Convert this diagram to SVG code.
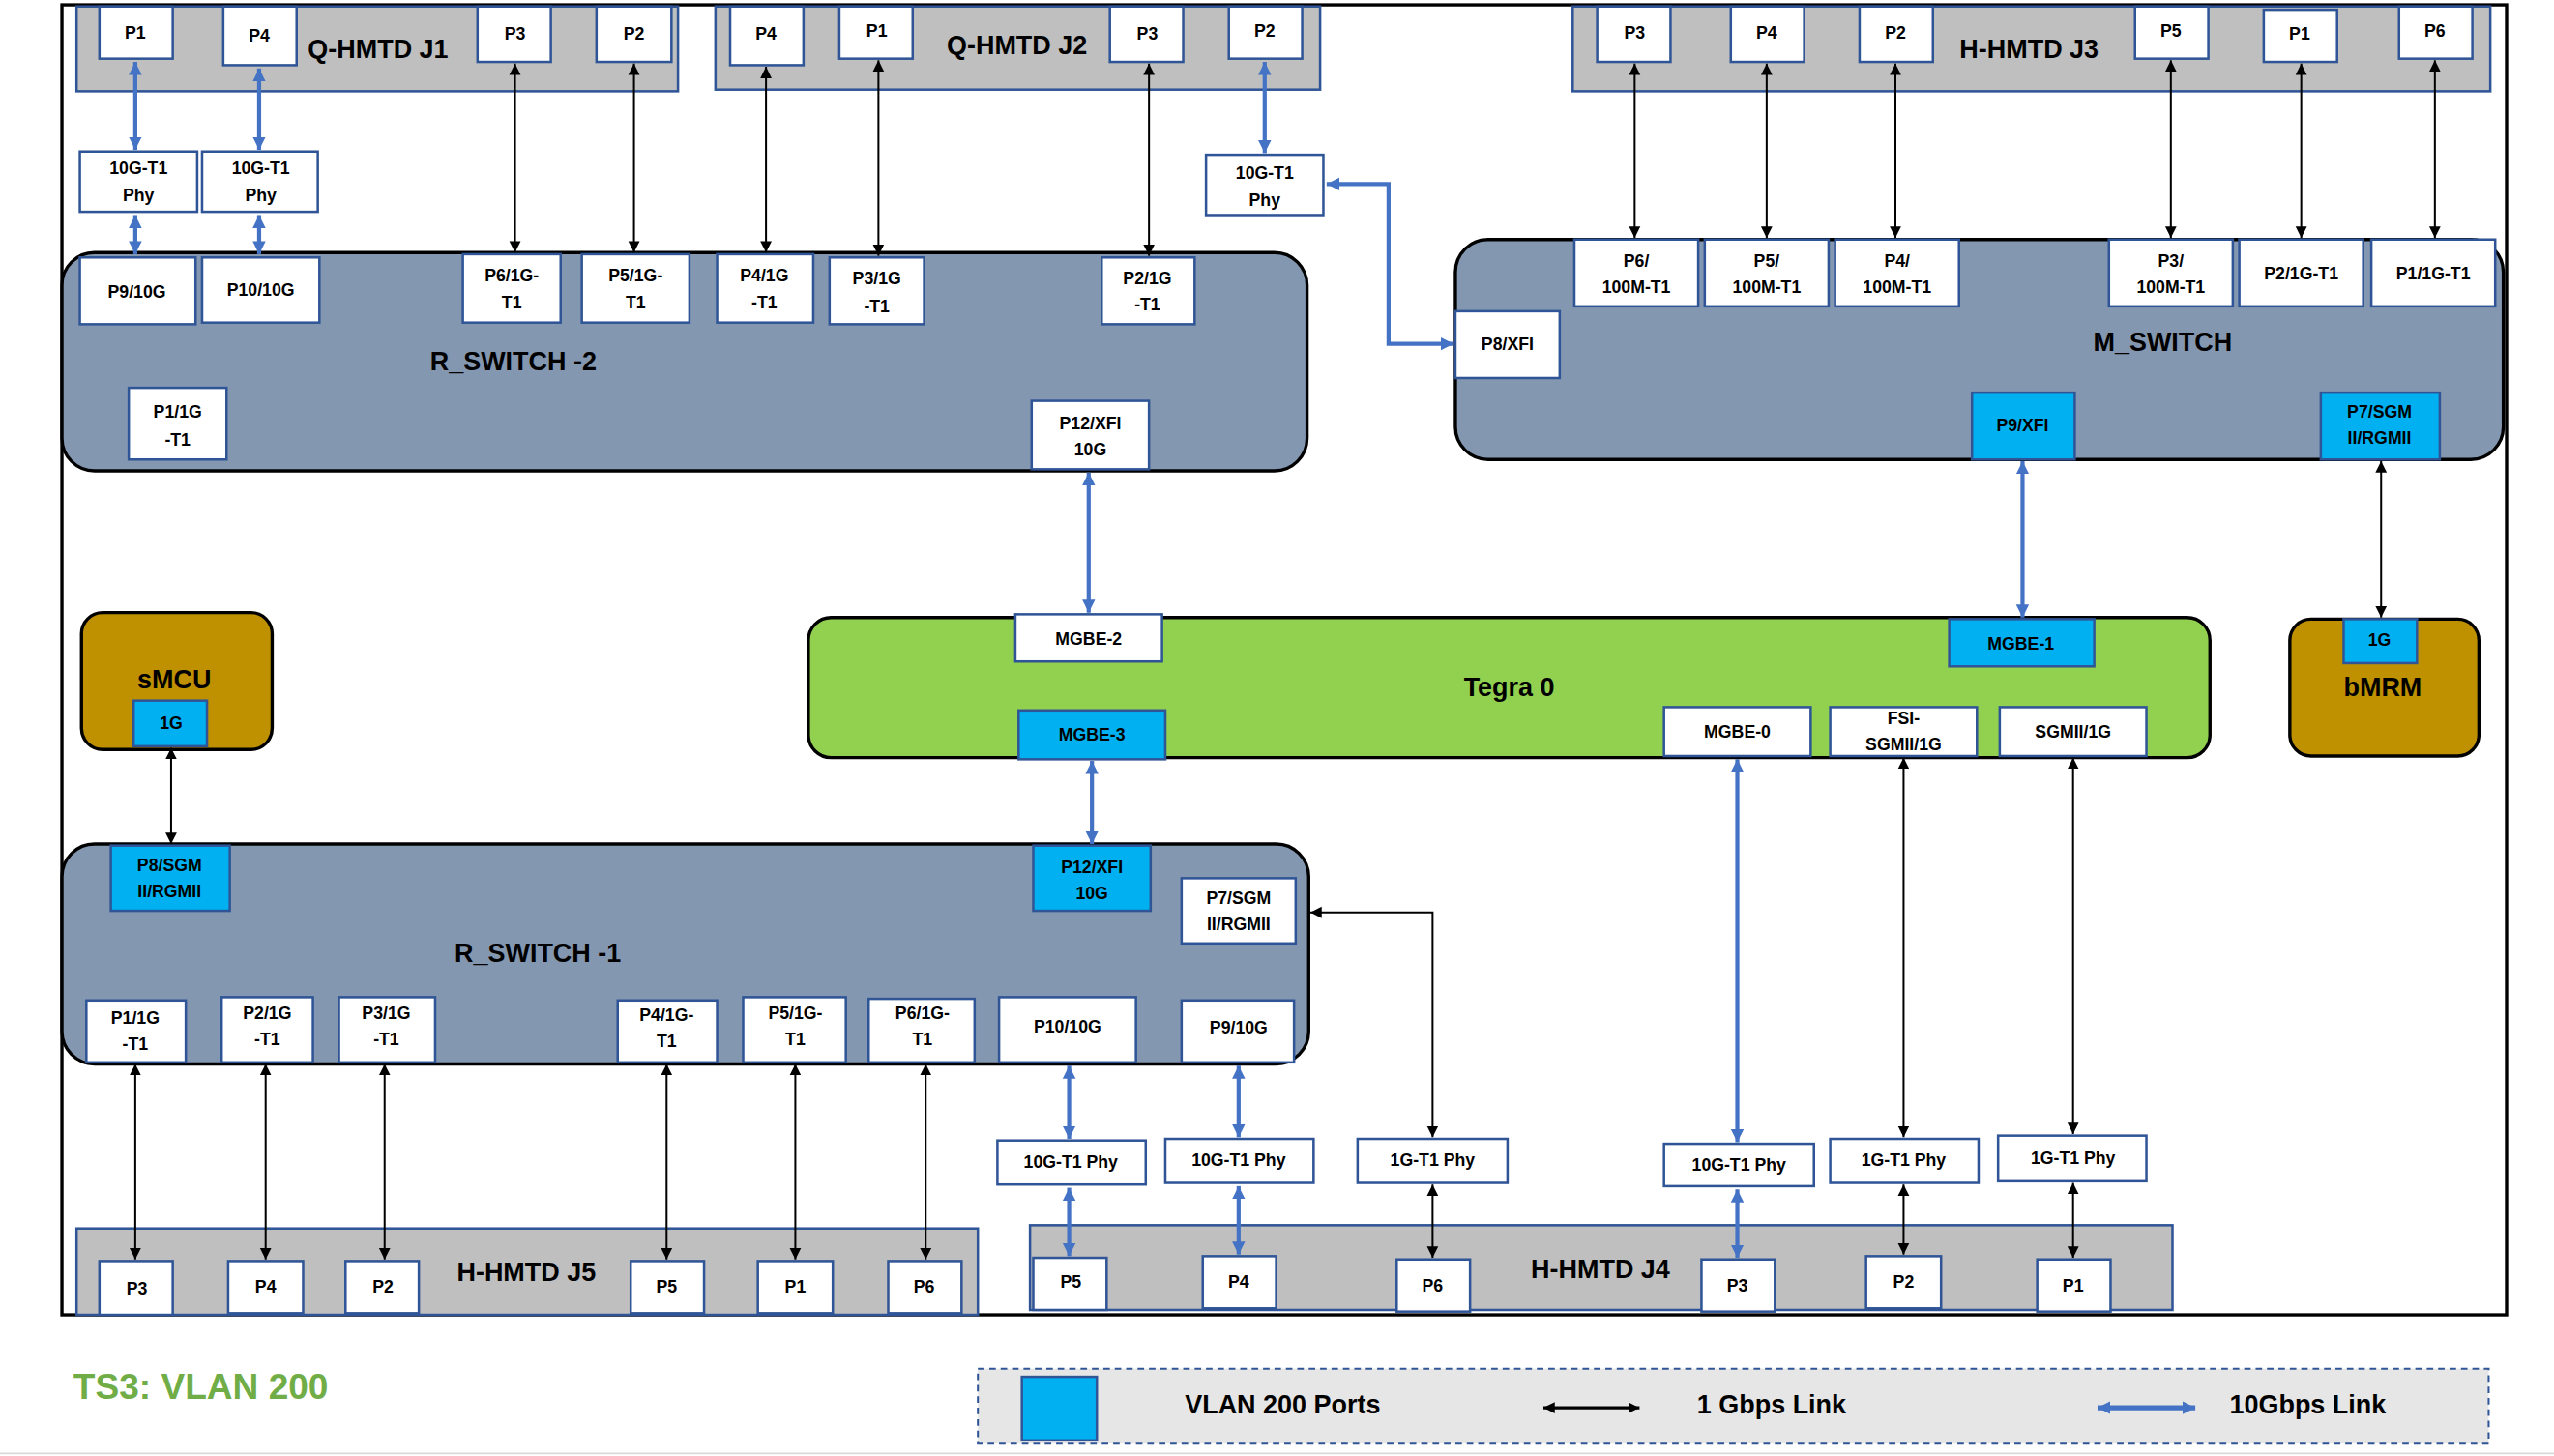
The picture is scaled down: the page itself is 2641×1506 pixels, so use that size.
<svg xmlns="http://www.w3.org/2000/svg" width="2641" height="1506" viewBox="0 0 2641 1506">
<defs>
<style>
text{font-family:"Liberation Sans",Arial,sans-serif;font-weight:bold;fill:#000;text-anchor:middle;dominant-baseline:central}
.p{font-size:10.5px}
.big{font-size:16px}
.port{fill:#fff;stroke:#2F5597;stroke-width:1.5}
.vl{fill:#00B0F0;stroke:#2F5597;stroke-width:1.5}
.hm{fill:#BFBFBF;stroke:#2F5597;stroke-width:1.5}
.sw{fill:#8497B0;stroke:#000;stroke-width:2}
.k{stroke:#000;stroke-width:1.2;fill:none;marker-start:url(#ka);marker-end:url(#ka)}
.b{stroke:#4472C4;stroke-width:2.5;fill:none;marker-start:url(#ba);marker-end:url(#ba)}
</style>
<marker id="ka" viewBox="0 0 10 10" refX="10" refY="5" markerWidth="7" markerHeight="9" markerUnits="userSpaceOnUse" orient="auto-start-reverse"><path d="M0,0 L10,5 L0,10 z" fill="#000"/></marker>
<marker id="ba" viewBox="0 0 10 10" refX="10" refY="5" markerWidth="8" markerHeight="10" markerUnits="userSpaceOnUse" orient="auto-start-reverse"><path d="M0,0 L10,5 L0,10 z" fill="#4472C4"/></marker>
</defs>
<rect width="2641" height="1506" fill="#fff"/>
<g transform="scale(1.6853)">
<rect x="38" y="3" width="1500" height="804" fill="none" stroke="#000" stroke-width="2"/>
<line x1="0" y1="892" x2="1570" y2="892" stroke="#D9D9D9" stroke-width="1"/>

<g id="qhmtd-j1">
<rect class="hm" x="47" y="4" width="369" height="52"/>
<text class="big" x="232" y="30">Q-HMTD J1</text>
<rect class="port" x="61" y="4" width="45" height="32"/><text class="p" x="83" y="20">P1</text>
<rect class="port" x="137" y="4" width="45" height="36"/><text class="p" x="159" y="22">P4</text>
<rect class="port" x="293" y="4" width="45" height="34"/><text class="p" x="316" y="21">P3</text>
<rect class="port" x="366" y="4" width="46" height="34"/><text class="p" x="389" y="21">P2</text>
</g>
<g id="qhmtd-j2">
<rect class="hm" x="439" y="4" width="371" height="51"/>
<text class="big" x="624" y="28">Q-HMTD J2</text>
<rect class="port" x="448" y="4" width="45" height="36"/><text class="p" x="470" y="21">P4</text>
<rect class="port" x="515" y="4" width="45" height="32"/><text class="p" x="538" y="19">P1</text>
<rect class="port" x="681" y="4" width="45" height="34"/><text class="p" x="704" y="21">P3</text>
<rect class="port" x="754" y="4" width="45" height="32"/><text class="p" x="776" y="19">P2</text>
</g>
<g id="hhmtd-j3">
<rect class="hm" x="965" y="4" width="563" height="52"/>
<text class="big" x="1245" y="30">H-HMTD J3</text>
<rect class="port" x="980" y="4" width="45" height="34"/><text class="p" x="1003" y="20">P3</text>
<rect class="port" x="1062" y="4" width="45" height="34"/><text class="p" x="1084" y="20">P4</text>
<rect class="port" x="1141" y="4" width="45" height="34"/><text class="p" x="1163" y="20">P2</text>
<rect class="port" x="1310" y="4" width="45" height="32"/><text class="p" x="1332" y="19">P5</text>
<rect class="port" x="1389" y="6" width="45" height="32"/><text class="p" x="1411" y="21">P1</text>
<rect class="port" x="1472" y="4" width="45" height="32"/><text class="p" x="1494" y="19">P6</text>
</g>

<g id="phy-j1-p1"><rect class="port" x="49" y="93" width="72" height="37"/><text class="p"><tspan x="85" y="103">10G-T1</tspan><tspan x="85" y="120">Phy</tspan></text></g>
<g id="phy-j1-p4"><rect class="port" x="124" y="93" width="71" height="37"/><text class="p"><tspan x="160" y="103">10G-T1</tspan><tspan x="160" y="120">Phy</tspan></text></g>
<g id="phy-j2-p2"><rect class="port" x="740" y="95" width="72" height="37"/><text class="p"><tspan x="776" y="106">10G-T1</tspan><tspan x="776" y="123">Phy</tspan></text></g>

<g id="r-switch-2">
<rect class="sw" x="38" y="155" width="764" height="134" rx="20"/>
<text class="big" x="315" y="222">R_SWITCH -2</text>
<rect class="port" x="49" y="158" width="71" height="41"/><text class="p" x="84" y="179">P9/10G</text>
<rect class="port" x="124" y="158" width="72" height="40"/><text class="p" x="160" y="178">P10/10G</text>
<rect class="port" x="284" y="156" width="60" height="42"/><text class="p"><tspan x="314" y="169">P6/1G-</tspan><tspan x="314" y="186">T1</tspan></text>
<rect class="port" x="357" y="156" width="66" height="42"/><text class="p"><tspan x="390" y="169">P5/1G-</tspan><tspan x="390" y="186">T1</tspan></text>
<rect class="port" x="440" y="156" width="59" height="42"/><text class="p"><tspan x="469" y="169">P4/1G</tspan><tspan x="469" y="186">-T1</tspan></text>
<rect class="port" x="509" y="158" width="58" height="41"/><text class="p"><tspan x="538" y="171">P3/1G</tspan><tspan x="538" y="188">-T1</tspan></text>
<rect class="port" x="676" y="158" width="57" height="41"/><text class="p"><tspan x="704" y="171">P2/1G</tspan><tspan x="704" y="187">-T1</tspan></text>
<rect class="port" x="79" y="238" width="60" height="44"/><text class="p"><tspan x="109" y="253">P1/1G</tspan><tspan x="109" y="270">-T1</tspan></text>
<rect class="port" x="633" y="246" width="72" height="42"/><text class="p"><tspan x="669" y="260">P12/XFI</tspan><tspan x="669" y="276">10G</tspan></text>
</g>

<g id="m-switch">
<rect class="sw" x="893" y="147" width="643" height="135" rx="20"/>
<text class="big" x="1327" y="210">M_SWITCH</text>
<rect class="port" x="966" y="147" width="76" height="41"/><text class="p"><tspan x="1004" y="160">P6/</tspan><tspan x="1004" y="176">100M-T1</tspan></text>
<rect class="port" x="1046" y="147" width="76" height="41"/><text class="p"><tspan x="1084" y="160">P5/</tspan><tspan x="1084" y="176">100M-T1</tspan></text>
<rect class="port" x="1126" y="147" width="76" height="41"/><text class="p"><tspan x="1164" y="160">P4/</tspan><tspan x="1164" y="176">100M-T1</tspan></text>
<rect class="port" x="1294" y="147" width="76" height="41"/><text class="p"><tspan x="1332" y="160">P3/</tspan><tspan x="1332" y="176">100M-T1</tspan></text>
<rect class="port" x="1374" y="147" width="76" height="41"/><text class="p" x="1412" y="168">P2/1G-T1</text>
<rect class="port" x="1455" y="147" width="76" height="41"/><text class="p" x="1493" y="168">P1/1G-T1</text>
<rect class="port" x="893" y="191" width="64" height="41"/><text class="p" x="925" y="211">P8/XFI</text>
<rect class="vl" x="1210" y="241" width="63" height="41"/><text class="p" x="1241" y="261">P9/XFI</text>
<rect class="vl" x="1424" y="241" width="73" height="41"/><text class="p"><tspan x="1460" y="253">P7/SGM</tspan><tspan x="1460" y="269">II/RGMII</tspan></text>
</g>

<g id="tegra-0">
<rect x="496" y="379" width="860" height="86" rx="14" fill="#92D050" stroke="#000" stroke-width="2"/>
<text class="big" x="926" y="422">Tegra 0</text>
<rect class="port" x="623" y="377" width="90" height="29"/><text class="p" x="668" y="392">MGBE-2</text>
<rect class="vl" x="625" y="436" width="90" height="30"/><text class="p" x="670" y="451">MGBE-3</text>
<rect class="vl" x="1196" y="380" width="89" height="29"/><text class="p" x="1240" y="395">MGBE-1</text>
<rect class="port" x="1021" y="434" width="90" height="30"/><text class="p" x="1066" y="449">MGBE-0</text>
<rect class="port" x="1123" y="434" width="90" height="30"/><text class="p"><tspan x="1168" y="441">FSI-</tspan><tspan x="1168" y="457">SGMII/1G</tspan></text>
<rect class="port" x="1227" y="434" width="90" height="30"/><text class="p" x="1272" y="449">SGMII/1G</text>
</g>

<g id="smcu">
<rect x="50" y="376" width="117" height="84" rx="13" fill="#BF9000" stroke="#000" stroke-width="2"/>
<text class="big" x="107" y="417">sMCU</text>
<rect class="vl" x="82" y="430" width="45" height="28"/><text class="p" x="105" y="444">1G</text>
</g>
<g id="bmrm">
<rect x="1405" y="380" width="116" height="84" rx="13" fill="#BF9000" stroke="#000" stroke-width="2"/>
<text class="big" x="1462" y="422">bMRM</text>
<rect class="vl" x="1438" y="380" width="45" height="27"/><text class="p" x="1460" y="393">1G</text>
</g>

<g id="r-switch-1">
<rect class="sw" x="38" y="518" width="765" height="135" rx="20"/>
<text class="big" x="330" y="585">R_SWITCH -1</text>
<rect class="vl" x="68" y="519" width="73" height="40"/><text class="p"><tspan x="104" y="531">P8/SGM</tspan><tspan x="104" y="547">II/RGMII</tspan></text>
<rect class="vl" x="634" y="519" width="72" height="40"/><text class="p"><tspan x="670" y="532">P12/XFI</tspan><tspan x="670" y="548">10G</tspan></text>
<rect class="port" x="725" y="539" width="70" height="40"/><text class="p"><tspan x="760" y="551">P7/SGM</tspan><tspan x="760" y="567">II/RGMII</tspan></text>
<rect class="port" x="53" y="614" width="61" height="38"/><text class="p"><tspan x="83" y="625">P1/1G</tspan><tspan x="83" y="641">-T1</tspan></text>
<rect class="port" x="136" y="612" width="56" height="40"/><text class="p"><tspan x="164" y="622">P2/1G</tspan><tspan x="164" y="638">-T1</tspan></text>
<rect class="port" x="208" y="612" width="59" height="40"/><text class="p"><tspan x="237" y="622">P3/1G</tspan><tspan x="237" y="638">-T1</tspan></text>
<rect class="port" x="379" y="614" width="61" height="38"/><text class="p"><tspan x="409" y="623">P4/1G-</tspan><tspan x="409" y="639">T1</tspan></text>
<rect class="port" x="456" y="612" width="63" height="40"/><text class="p"><tspan x="488" y="622">P5/1G-</tspan><tspan x="488" y="638">T1</tspan></text>
<rect class="port" x="533" y="613" width="65" height="39"/><text class="p"><tspan x="566" y="622">P6/1G-</tspan><tspan x="566" y="638">T1</tspan></text>
<rect class="port" x="613" y="612" width="84" height="40"/><text class="p" x="655" y="630">P10/10G</text>
<rect class="port" x="725" y="614" width="69" height="38"/><text class="p" x="760" y="631">P9/10G</text>
</g>

<g id="phy-j4-p5"><rect class="port" x="612" y="700" width="91" height="27"/><text class="p" x="657" y="713">10G-T1 Phy</text></g>
<g id="phy-j4-p4"><rect class="port" x="715" y="699" width="91" height="27"/><text class="p" x="760" y="712">10G-T1 Phy</text></g>
<g id="phy-j4-p6"><rect class="port" x="833" y="699" width="92" height="27"/><text class="p" x="879" y="712">1G-T1 Phy</text></g>
<g id="phy-j4-p3"><rect class="port" x="1021" y="702" width="92" height="26"/><text class="p" x="1067" y="715">10G-T1 Phy</text></g>
<g id="phy-j4-p2"><rect class="port" x="1123" y="699" width="91" height="27"/><text class="p" x="1168" y="712">1G-T1 Phy</text></g>
<g id="phy-j4-p1"><rect class="port" x="1226" y="697" width="91" height="28"/><text class="p" x="1272" y="711">1G-T1 Phy</text></g>

<g id="hhmtd-j5">
<rect class="hm" x="47" y="754" width="553" height="53"/>
<text class="big" x="323" y="781">H-HMTD J5</text>
<rect class="port" x="61" y="774" width="45" height="33"/><text class="p" x="84" y="791">P3</text>
<rect class="port" x="140" y="774" width="46" height="32"/><text class="p" x="163" y="790">P4</text>
<rect class="port" x="212" y="774" width="45" height="32"/><text class="p" x="235" y="790">P2</text>
<rect class="port" x="387" y="774" width="45" height="32"/><text class="p" x="409" y="790">P5</text>
<rect class="port" x="465" y="774" width="46" height="32"/><text class="p" x="488" y="790">P1</text>
<rect class="port" x="545" y="774" width="45" height="32"/><text class="p" x="567" y="790">P6</text>
</g>
<g id="hhmtd-j4">
<rect class="hm" x="632" y="752" width="701" height="52"/>
<text class="big" x="982" y="779">H-HMTD J4</text>
<rect class="port" x="634" y="772" width="45" height="32"/><text class="p" x="657" y="787">P5</text>
<rect class="port" x="738" y="771" width="45" height="32"/><text class="p" x="760" y="787">P4</text>
<rect class="port" x="857" y="773" width="45" height="32"/><text class="p" x="879" y="789">P6</text>
<rect class="port" x="1044" y="773" width="45" height="32"/><text class="p" x="1066" y="789">P3</text>
<rect class="port" x="1145" y="771" width="46" height="32"/><text class="p" x="1168" y="787">P2</text>
<rect class="port" x="1250" y="773" width="45" height="32"/><text class="p" x="1272" y="789">P1</text>
</g>

<g id="connectors">
<path class="b" d="M83,38 V92"/><path class="b" d="M83,132 V156"/>
<path class="b" d="M159,42 V92"/><path class="b" d="M159,132 V156"/>
<path class="b" d="M776,38 V94"/>
<path class="b" d="M814,113 H852 V211 H892"/>
<path class="b" d="M668,290 V376"/>
<path class="b" d="M670,467 V518"/>
<path class="b" d="M1241,283 V379"/>
<path class="b" d="M656,654 V699"/><path class="b" d="M656,729 V771"/>
<path class="b" d="M760,654 V698"/><path class="b" d="M760,728 V770"/>
<path class="b" d="M1066,466 V701"/><path class="b" d="M1066,730 V772"/>
<path class="k" d="M316,39 V155"/><path class="k" d="M389,39 V155"/>
<path class="k" d="M470,41 V155"/><path class="k" d="M539,37 V157"/>
<path class="k" d="M705,39 V157"/>
<path class="k" d="M1003,39 V146"/><path class="k" d="M1084,39 V146"/>
<path class="k" d="M1163,39 V146"/><path class="k" d="M1332,37 V146"/>
<path class="k" d="M1412,39 V146"/><path class="k" d="M1494,37 V146"/>
<path class="k" d="M1461,283 V379"/>
<path class="k" d="M105,459 V518"/>
<path class="k" d="M83,653 V773"/><path class="k" d="M163,653 V773"/>
<path class="k" d="M236,653 V773"/><path class="k" d="M409,653 V773"/>
<path class="k" d="M488,653 V773"/><path class="k" d="M568,653 V773"/>
<path class="k" d="M804,560 H879 V698"/>
<path class="k" d="M879,727 V772"/>
<path class="k" d="M1168,465 V698"/><path class="k" d="M1168,727 V770"/>
<path class="k" d="M1272,465 V696"/><path class="k" d="M1272,726 V772"/>
</g>

<text x="45" y="851" style="font-size:22px;fill:#70AD47;text-anchor:start">TS3: VLAN 200</text>

<g id="legend">
<rect x="600" y="840" width="927" height="46" fill="#E7E6E6" stroke="#2F5597" stroke-width="1.2" stroke-dasharray="4,3"/>
<rect class="vl" x="627" y="845" width="46" height="39"/>
<text x="787" y="862" style="font-size:16px">VLAN 200 Ports</text>
<path class="k" d="M947,864 H1006" style="stroke-width:2"/>
<text x="1087" y="862" style="font-size:16px">1 Gbps Link</text>
<path class="b" d="M1287,864 H1347" style="stroke-width:3"/>
<text x="1416" y="862" style="font-size:16px">10Gbps Link</text>
</g>
</g>
</svg>
